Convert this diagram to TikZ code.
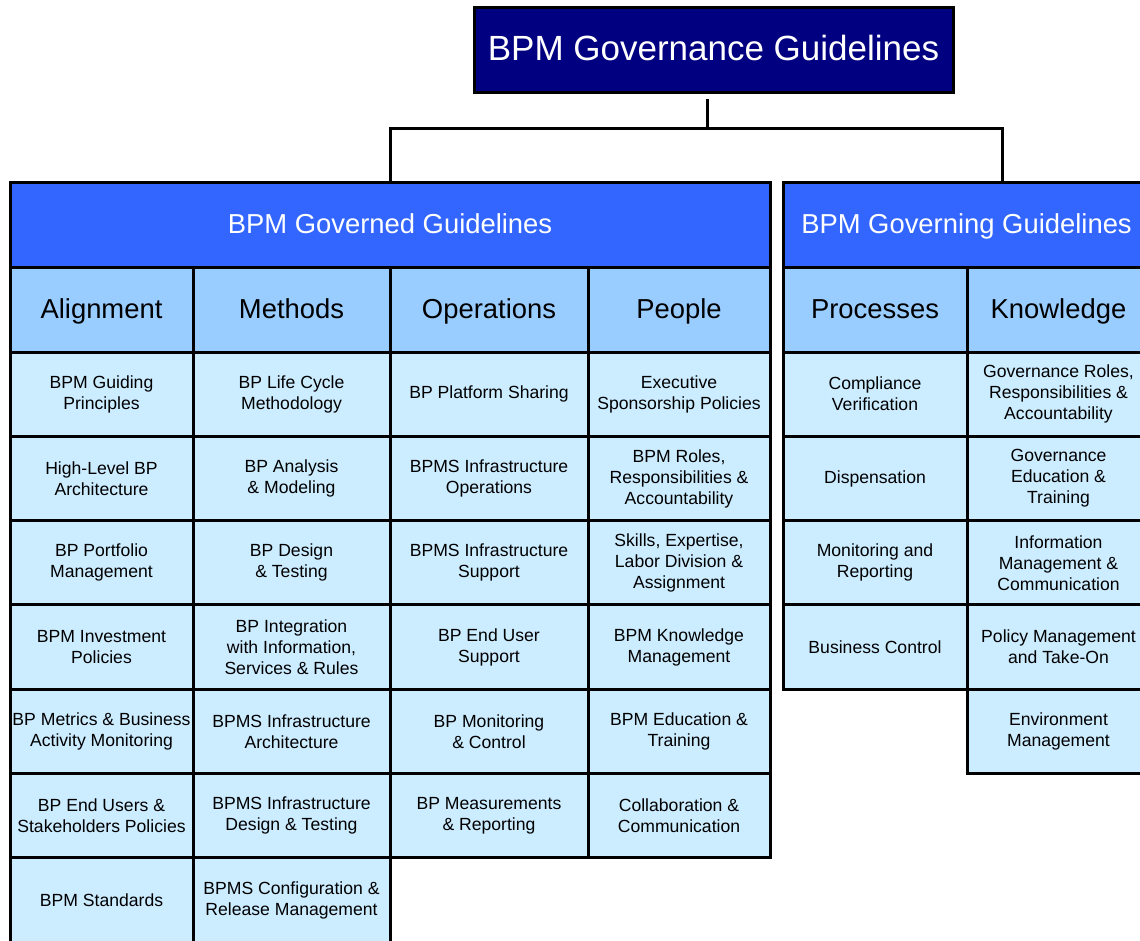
\documentclass[tikz,border=0pt]{standalone}
\usepackage{fontspec}
\setmainfont{Liberation Sans}
\definecolor{navybox}{HTML}{000080}
\definecolor{groupblue}{HTML}{3366FF}
\definecolor{headblue}{HTML}{99CCFF}
\definecolor{cellblue}{HTML}{CCECFF}
\begin{document}
\begin{tikzpicture}[x=0.5pt,y=-0.5pt]
    \tikzset{
        box/.style={draw, line width=1.5pt, align=center, inner sep=0pt},
        titlebox/.style={box, fill=navybox, text=white, text height=13pt, text depth=3pt, minimum width=239.5pt, minimum height=42.5pt, font=\fontsize{17.5}{21}\selectfont},
        groupbox/.style={box, fill=groupblue, text=white, text height=11pt, text depth=2.5pt, minimum height=42.5pt, font=\fontsize{13.7}{16}\selectfont},
        headbox/.style={box, fill=headblue, text height=11pt, text depth=2.5pt, minimum height=42pt, font=\fontsize{13.7}{16}\selectfont},
        cell/.style={box, fill=cellblue, minimum height=42.15pt, font=\fontsize{8.8}{10.5}\selectfont},
        conn/.style={line width=1.5pt},}
    \useasboundingbox (0,0) rectangle (1140,941);
    \clip (0,0) rectangle (1140,941);
    \node[titlebox] (top) at (713.5,50.5) {BPM Governance Guidelines};
    \node[groupbox, minimum width=380pt] (governed) at (390,225.5) {BPM Governed Guidelines};
    \node[groupbox, minimum width=183.5pt] (governing) at (966.5,225.5) {BPM Governing Guidelines};
    % connectors
    \draw[conn] ([xshift=-3.25pt,yshift=-2.5pt]top.south) -- ++(0,29) coordinate (bus) -| (governed.north);
    \draw[conn] (bus) -| ([xshift=17.75pt]governing.north);
    % column heads
    \node[headbox, minimum width=91.5pt] (alignment) at (101.5,310) {Alignment};
    \node[headbox, minimum width=98.5pt] (methods) at (291.5,310) {Methods};
    \node[headbox, minimum width=99pt] (operations) at (489,310) {Operations};
    \node[headbox, minimum width=91pt] (people) at (679,310) {People};
    \node[headbox, minimum width=92pt] (processes) at (875,310) {Processes};
    \node[headbox, minimum width=91.5pt] (knowledge) at (1058.5,310) {Knowledge};
    % cells
    \foreach \t [count=\i] in {{BPM Guiding\\Principles},{High-Level BP\\Architecture},{BP Portfolio\\Management},{BPM Investment\\Policies},{BP Metrics \& Business\\Activity Monitoring},{BP End Users \&\\Stakeholders Policies},{BPM Standards}}
        \node[cell, minimum width=91.5pt] (align\i) at (101.5,{352+84.3*(\i-0.5)}) {\t};
    \foreach \t [count=\i] in {{BP Life Cycle\\Methodology},{BP Analysis\\\& Modeling},{BP Design\\\& Testing},{BP Integration\\with Information,\\Services \& Rules},{BPMS Infrastructure\\Architecture},{BPMS Infrastructure\\Design \& Testing},{BPMS Configuration \&\\Release Management}}
        \node[cell, minimum width=98.5pt] (meth\i) at (291.5,{352+84.3*(\i-0.5)}) {\t};
    \foreach \t [count=\i] in {{BP Platform Sharing},{BPMS Infrastructure\\Operations},{BPMS Infrastructure\\Support},{BP End User\\Support},{BP Monitoring\\\& Control},{BP Measurements\\\& Reporting}}
        \node[cell, minimum width=99pt] (oper\i) at (489,{352+84.3*(\i-0.5)}) {\t};
    \foreach \t [count=\i] in {{Executive\\Sponsorship Policies},{BPM Roles,\\Responsibilities \&\\Accountability},{Skills, Expertise,\\Labor Division \&\\Assignment},{BPM Knowledge\\Management},{BPM Education \&\\Training},{Collaboration \&\\Communication}}
        \node[cell, minimum width=91pt] (peop\i) at (679,{352+84.3*(\i-0.5)}) {\t};
    \foreach \t [count=\i] in {{Compliance\\Verification},{Dispensation},{Monitoring and\\Reporting},{Business Control}}
        \node[cell, minimum width=92pt] (proc\i) at (875,{352+84.3*(\i-0.5)}) {\t};
    \foreach \t [count=\i] in {{Governance Roles,\\Responsibilities \&\\Accountability},{Governance\\Education \&\\Training},{Information\\Management \&\\Communication},{Policy Management\\and Take-On},{Environment\\Management}}
        \node[cell, minimum width=91.5pt] (know\i) at (1058.5,{352+84.3*(\i-0.5)}) {\t};
\end{tikzpicture}
\end{document}
